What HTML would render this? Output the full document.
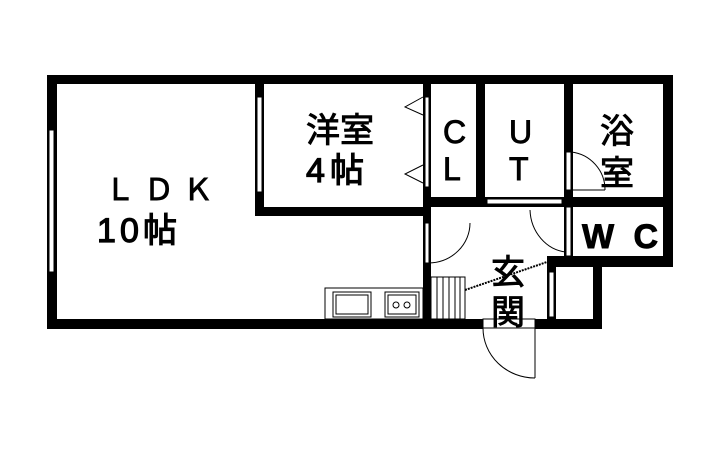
<!DOCTYPE html>
<html><head><meta charset="utf-8"><style>
html,body{margin:0;padding:0;background:#fff;width:720px;height:463px;overflow:hidden}
text{font-family:"Liberation Sans","Noto Sans CJK JP",sans-serif;fill:#000;stroke:#000;stroke-width:0.9}
</style></head><body>
<svg width="720" height="463" viewBox="0 0 720 463" xmlns="http://www.w3.org/2000/svg">
<g fill="#000">
<rect x="47" y="75" width="626" height="9"/>
<rect x="47" y="75" width="10" height="254"/>
<rect x="47" y="319" width="436" height="10"/>
<rect x="535" y="319" width="67" height="10"/>
<rect x="663" y="75" width="10" height="192"/>
<rect x="547" y="256" width="126" height="11"/>
<rect x="593" y="256" width="9" height="73"/>
<rect x="547" y="256" width="9" height="73"/>
<rect x="255" y="75" width="9" height="141"/>
<rect x="255" y="207" width="176" height="9"/>
<rect x="423" y="75" width="8" height="254"/>
<rect x="476" y="75" width="9" height="131"/>
<rect x="564" y="75" width="9" height="192"/>
<rect x="423" y="197" width="250" height="10"/>
</g>
<rect x="49" y="130" width="5" height="142" fill="#fff" stroke="#000" stroke-width="1"/>
<rect x="257" y="97" width="5" height="95" fill="#fff" stroke="#000" stroke-width="1"/>
<rect x="549" y="272" width="5" height="45" fill="#fff" stroke="#000" stroke-width="1"/>
<rect x="487" y="199" width="75" height="5" fill="#fff" stroke="#000" stroke-width="1"/>
<g fill="none" stroke="#000" stroke-width="1">
<rect x="425" y="97" width="4" height="90" fill="#fff"/>
<polyline points="423,97 405,107 423,115"/>
<polyline points="423,165 405,174 423,183"/>
<rect x="566" y="152" width="5" height="38" fill="#fff"/>
<line x1="571" y1="190" x2="605" y2="190"/>
<path d="M571,152 A38,38 0 0 1 605,190"/>
<rect x="425" y="223" width="4" height="40" fill="#fff"/>
<path d="M470,223 A42,40 0 0 1 429,263"/>
<rect x="566" y="207" width="5" height="49" fill="#fff"/>
<path d="M530,210 A40,44 0 0 0 566,252"/>
<rect x="483" y="319" width="52" height="9" fill="#fff"/>
<line x1="535" y1="328" x2="535" y2="378"/>
<path d="M483,328 A52,50 0 0 0 535,378"/>
<line x1="465" y1="290" x2="547" y2="262" stroke-dasharray="2,1" stroke-width="2"/>
<rect x="431" y="277" width="34" height="42" fill="#fff"/>
<line x1="437" y1="277" x2="437" y2="319"/><line x1="443" y1="277" x2="443" y2="319"/>
<line x1="449" y1="277" x2="449" y2="319"/><line x1="455" y1="277" x2="455" y2="319"/>
<line x1="460" y1="277" x2="460" y2="319"/>
<rect x="325" y="288" width="98" height="31" fill="#fff"/>
<rect x="333" y="292" width="38" height="25"/>
<rect x="336" y="295" width="32" height="19"/>
<rect x="385" y="292" width="34" height="25"/>
<rect x="388" y="295" width="28" height="19"/>
<circle cx="396" cy="305" r="3"/><circle cx="407" cy="305" r="3"/>
</g>
<text x="105" y="200" font-size="30" textLength="108">ＬＤＫ</text>
<text x="97" y="242" font-size="34" textLength="80" style="stroke-width:1.2">10帖</text>
<text x="306" y="142" font-size="34">洋室</text>
<text x="306" y="182" font-size="34" textLength="58" style="stroke-width:1.2">4帖</text>
<text x="443" y="143" font-size="32">C</text>
<text x="443" y="180" font-size="32">L</text>
<text x="509" y="143" font-size="32">U</text>
<text x="509" y="180" font-size="32">T</text>
<text x="600" y="143" font-size="34">浴</text>
<text x="600" y="185" font-size="34">室</text>
<text x="582" y="248" font-size="34" font-weight="bold" textLength="76">WC</text>
<text x="491" y="284" font-size="34">玄</text>
<text x="491" y="324" font-size="34">関</text>
</svg>
</body></html>
